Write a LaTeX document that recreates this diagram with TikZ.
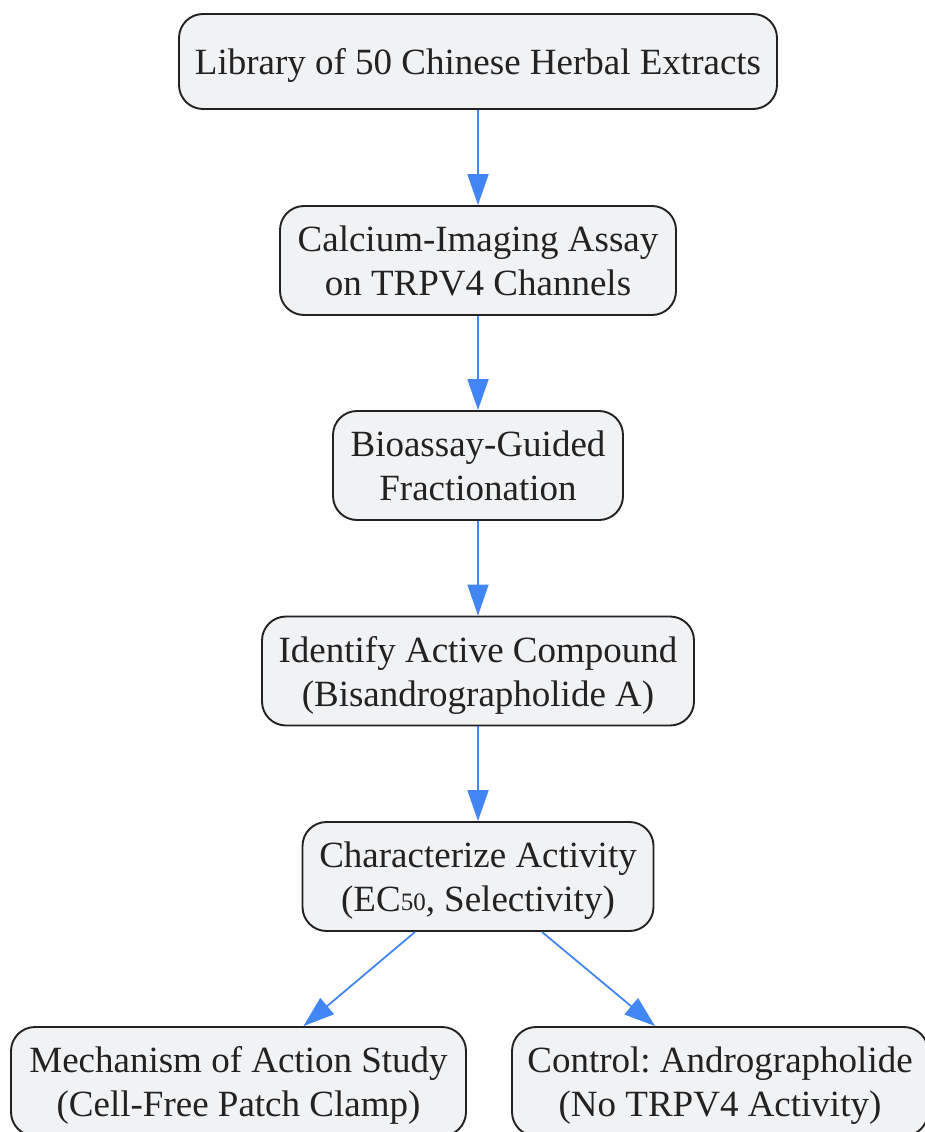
\documentclass[tikz,border=0pt]{standalone}
\usepackage{fontspec}
\setmainfont{Liberation Serif}
\usetikzlibrary{arrows.meta}
\frenchspacing

\definecolor{boxfill}{HTML}{F1F2F4}
\definecolor{boxline}{HTML}{222222}
\definecolor{flowblue}{HTML}{4285F4}

\tikzset{
  stepbox/.style={draw=boxline, line width=1.9pt, fill=boxfill,
    rounded corners=24pt, align=center, text=boxline,
    font=\fontsize{37}{44}\selectfont, inner sep=0pt, text depth=0pt},
  onebox/.style={stepbox, minimum height=95pt},
  twobox/.style={stepbox, minimum height=109pt},
  flow/.style={draw=flowblue, line width=1.8pt,
    -{Triangle[length=31pt,width=21pt]}}
}

\begin{document}
\begin{tikzpicture}[x=1pt,y=-1pt]
\useasboundingbox (0,0) rectangle (925,1132);

\node[onebox, minimum width=598pt] (lib) at (478,61.5)
  {Library of 50 Chinese Herbal Extracts};
\node[twobox, minimum width=396pt] (cal) at (478,260.5)
  {Calcium-Imaging Assay\\on TRPV4 Channels};
\node[twobox, minimum width=290pt] (bio) at (478,465.5)
  {Bioassay-Guided\\Fractionation};
\node[twobox, minimum width=432pt] (ident) at (478,671)
  {Identify Active Compound\\(Bisandrographolide A)};
\node[twobox, minimum width=351pt] (char) at (478,876.5)
  {Characterize Activity\\(EC\raisebox{0.5pt}{\fontsize{25}{30}\selectfont 50}, Selectivity)};
\node[twobox, minimum width=455pt] (mech) at (238.5,1081.5)
  {Mechanism of Action Study\\(Cell-Free Patch Clamp)};
\node[twobox, minimum width=416pt] (ctrl) at (720,1081.5)
  {Control: Andrographolide\\(No TRPV4 Activity)};

\draw[flow] (lib) -- (cal);
\draw[flow] (cal) -- (bio);
\draw[flow] (bio) -- (ident);
\draw[flow] (ident) -- (char);
\draw[flow] ([xshift=-63pt]char.south) -- ([xshift=65pt]mech.north);
\draw[flow] ([xshift=64pt]char.south) -- ([xshift=-65pt]ctrl.north);
\end{tikzpicture}
\end{document}
